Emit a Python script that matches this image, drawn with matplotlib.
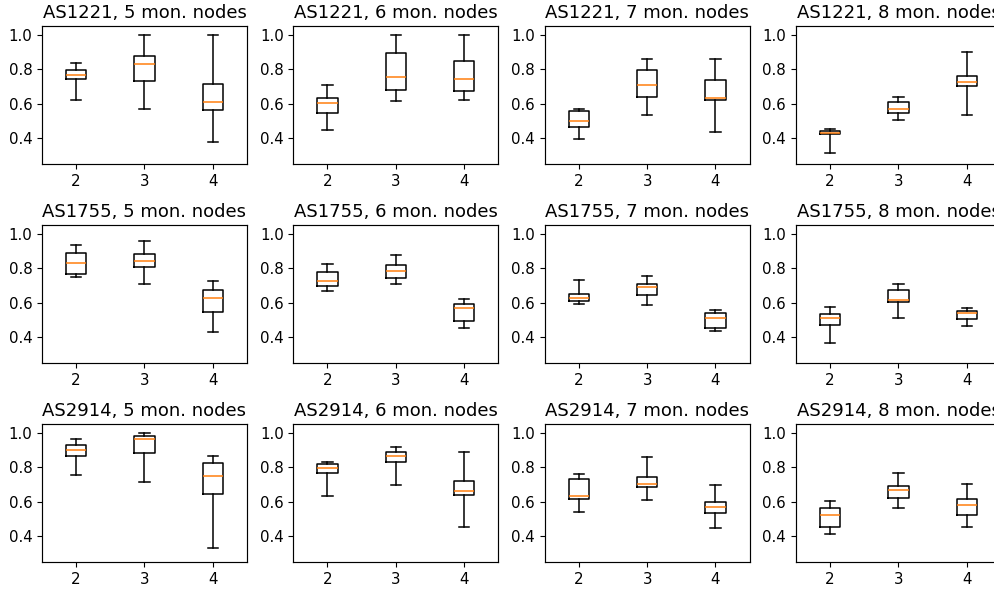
import matplotlib
matplotlib.use("Agg")
import matplotlib.pyplot as plt

# box stats: (whislo, q1, med, q3, whishi) per x position
as_names = ["AS1221", "AS1755", "AS2914"]
mon_nodes = [5, 6, 7, 8]
positions = [2, 3, 4]

as1221 = {
    5: [(0.620, 0.741, 0.764, 0.793, 0.834), (0.569, 0.729, 0.830, 0.873, 1.000), (0.376, 0.563, 0.610, 0.713, 1.000)],
    6: [(0.448, 0.544, 0.604, 0.630, 0.706), (0.612, 0.678, 0.754, 0.893, 1.000), (0.622, 0.674, 0.741, 0.844, 1.000)],
    7: [(0.392, 0.464, 0.497, 0.559, 0.571), (0.534, 0.637, 0.706, 0.793, 0.858), (0.435, 0.618, 0.635, 0.739, 0.858)],
    8: [(0.316, 0.421, 0.431, 0.441, 0.452), (0.505, 0.546, 0.567, 0.608, 0.639), (0.536, 0.703, 0.725, 0.760, 0.901)],
}
as1755 = {
    5: [(0.747, 0.767, 0.831, 0.890, 0.935), (0.710, 0.804, 0.839, 0.884, 0.957), (0.427, 0.545, 0.625, 0.675, 0.725)],
    6: [(0.669, 0.694, 0.725, 0.778, 0.825), (0.710, 0.743, 0.786, 0.816, 0.878), (0.453, 0.492, 0.571, 0.590, 0.618)],
    7: [(0.592, 0.610, 0.624, 0.647, 0.733), (0.586, 0.643, 0.688, 0.706, 0.753), (0.435, 0.455, 0.512, 0.539, 0.559)],
    8: [(0.365, 0.473, 0.512, 0.533, 0.573), (0.508, 0.604, 0.616, 0.675, 0.706), (0.463, 0.504, 0.541, 0.551, 0.569)],
}
as2914 = {
    5: [(0.756, 0.865, 0.898, 0.928, 0.961), (0.711, 0.883, 0.965, 0.979, 1.000), (0.334, 0.646, 0.748, 0.826, 0.867)],
    6: [(0.633, 0.766, 0.797, 0.816, 0.830), (0.697, 0.832, 0.867, 0.889, 0.914), (0.451, 0.639, 0.664, 0.719, 0.885)],
    7: [(0.539, 0.615, 0.635, 0.729, 0.758), (0.611, 0.684, 0.705, 0.742, 0.859), (0.447, 0.535, 0.570, 0.600, 0.695)],
    8: [(0.410, 0.455, 0.523, 0.561, 0.605), (0.564, 0.623, 0.670, 0.691, 0.766), (0.455, 0.521, 0.580, 0.613, 0.701)],
}
all_stats = [as1221, as1755, as2914]

plt.rcParams["lines.linewidth"] = 1.1
plt.rcParams["axes.linewidth"] = 0.85
plt.rcParams["boxplot.boxprops.linewidth"] = 1.1
plt.rcParams["boxplot.whiskerprops.linewidth"] = 1.1
plt.rcParams["boxplot.capprops.linewidth"] = 1.1
plt.rcParams["boxplot.medianprops.linewidth"] = 1.1

fig, axes = plt.subplots(3, 4, figsize=(9.95, 5.89), dpi=100)
fig.subplots_adjust(left=0.0422, right=1.006, top=0.956, bottom=0.0458,
                    wspace=0.226, hspace=0.442)

for i, name in enumerate(as_names):
    for j, n in enumerate(mon_nodes):
        ax = axes[i, j]
        stats = []
        for s in all_stats[i][n]:
            stats.append({"whislo": s[0], "q1": s[1], "med": s[2],
                          "q3": s[3], "whishi": s[4], "fliers": []})
        ax.bxp(stats, positions=positions, widths=0.3)
        ax.set_xlim(1.5, 4.5)
        ax.set_ylim(0.25, 1.05)
        ax.set_yticks([0.4, 0.6, 0.8, 1.0])
        ax.tick_params(labelsize=10.8)
        ax.set_title(name + ", " + str(n) + " mon. nodes", fontsize=13)

fig.savefig("out.png", dpi=100)
